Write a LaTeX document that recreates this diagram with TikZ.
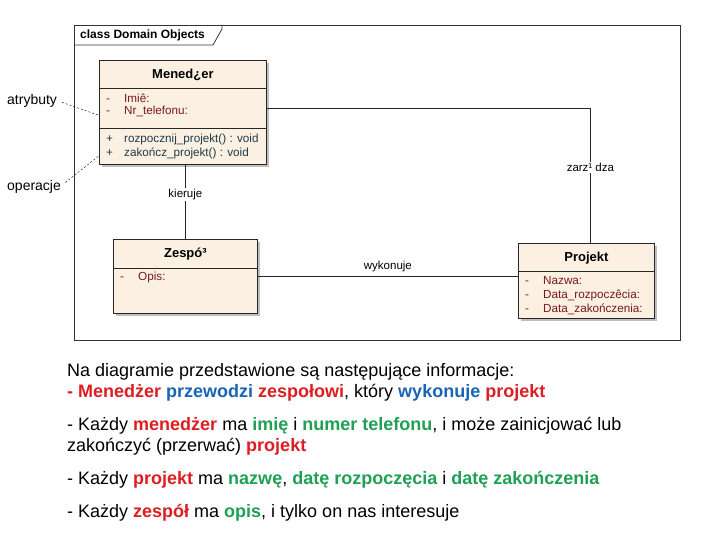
\documentclass[tikz,border=0pt]{standalone}
\usepackage{fontspec}
\setmainfont{Liberation Sans}
\usetikzlibrary{shadows}
\definecolor{umlfill}{RGB}{251,240,225}
\definecolor{attrcol}{RGB}{120,25,30}
\definecolor{opcol}{RGB}{30,60,75}
\definecolor{hlred}{RGB}{220,30,35}
\definecolor{hlblue}{RGB}{25,100,180}
\definecolor{hlgreen}{RGB}{30,160,85}
\newcommand{\rd}[1]{\textcolor{hlred}{\textbf{#1}}}
\newcommand{\bl}[1]{\textcolor{hlblue}{\textbf{#1}}}
\newcommand{\gr}[1]{\textcolor{hlgreen}{\textbf{#1}}}
\newcommand{\umlrow}[2]{\makebox[18pt][l]{#1}#2}
\begin{document}
\begin{tikzpicture}[x=1pt,y=-1pt,every node/.style={font=\fontsize{11.7}{13}\selectfont,inner sep=1pt},
  umlbox/.style={draw=black!85,line width=0.8pt,fill=umlfill,anchor=north west,inner sep=0pt,
    drop shadow={shadow xshift=3pt,shadow yshift=-3pt,fill=black!25,opacity=1}},
  umlhead/.style={font=\fontsize{13}{15}\selectfont\bfseries},
  attr/.style={anchor=west,text=attrcol}, oper/.style={anchor=west,text=opcol},
  assoc/.style={draw=black!85,line width=0.8pt},
  linklabel/.style={fill=white,inner sep=1.5pt,font=\fontsize{11.5}{13}\selectfont},
  note/.style={anchor=west,font=\fontsize{14}{16}\selectfont},
  desc/.style={anchor=base west,font=\fontsize{18}{21}\selectfont}]
\useasboundingbox (0,0) rectangle (720,540);
% frame
\draw[black!80,line width=0.8pt] (74,25) rectangle (680,340);
\draw[black!80,line width=0.8pt] (74,45) -- (213,45) -- (222,29) -- (222,25);
\node[anchor=west,font=\fontsize{12}{14}\selectfont\bfseries] (frametitle) at (79,35) {class Domain Objects};
% classes
\node[umlbox,minimum width=167pt,minimum height=104pt] (man) at (99,60) {};
\node[umlbox,minimum width=144pt,minimum height=74pt] (zes) at (113,239) {};
\node[umlbox,minimum width=136pt,minimum height=75pt] (proj) at (518,243) {};
\draw[black!85,line width=0.8pt] ([yshift=-28pt]man.north west) -- ([yshift=-28pt]man.north east);
\draw[black!85,line width=0.8pt] ([yshift=-68pt]man.north west) -- ([yshift=-68pt]man.north east);
\draw[black!85,line width=0.8pt] ([yshift=-29pt]zes.north west) -- ([yshift=-29pt]zes.north east);
\draw[black!85,line width=0.8pt] ([yshift=-28pt]proj.north west) -- ([yshift=-28pt]proj.north east);
\node[umlhead] (manhead) at ([yshift=-14.5pt]man.north) {Mened¿er};
\node[umlhead] (zeshead) at ([yshift=-15pt]zes.north) {Zespó³};
\node[umlhead] (projhead) at ([yshift=-15pt]proj.north) {Projekt};
\node[attr] (mimie) at (105,98) {\umlrow{-}{Imiê:}};
\node[attr] (mtel) at (105,111) {\umlrow{-}{Nr\_telefonu:}};
\node[oper] (mstart) at (105,139) {\umlrow{+}{rozpocznij\_projekt() : void}};
\node[oper] (mstop) at (105,153) {\umlrow{+}{zakończ\_projekt() : void}};
\node[attr] (zopis) at (119,277) {\umlrow{-}{Opis:}};
\node[attr] (pnazwa) at (524,281) {\umlrow{-}{Nazwa:}};
\node[attr] (pstart) at (524,295) {\umlrow{-}{Data\_rozpoczêcia:}};
\node[attr] (pstop) at (524,309) {\umlrow{-}{Data\_zakończenia:}};
% associations
\draw[assoc] ([yshift=4pt]man.east) -| node[linklabel,pos=0.72] (zarz) {zarz¹ dza} ([xshift=4pt]proj.north);
\draw[assoc] (zes.north |- man.south) -- node[linklabel,pos=0.4] (kier) {kieruje} (zes.north);
\draw[assoc] (zes.east) -- node[above=3pt,font=\fontsize{11.5}{13}\selectfont] (wyk) {wykonuje} (zes.east -| proj.west);
% annotations
\node[note] (atr) at (6,101) {atrybuty};
\node[note] (ope) at (6,187) {operacje};
\draw[black,dash pattern=on 2pt off 2pt,shorten <=4pt] (atr.east) -- ([yshift=-3pt]man.west);
\draw[black,dash pattern=on 2pt off 2pt,shorten <=4pt] ([yshift=2pt]ope.east) -- ([yshift=9pt]man.south west);
% description
\node[desc] (line1) at (66,376) {Na diagramie przedstawione są następujące informacje:};
\node[desc] (line2) at (66,397) {\rd{- Menedżer} \bl{przewodzi} \rd{zespołowi}, który \bl{wykonuje} \rd{projekt}};
\node[desc] (line3) at (66,430) {- Każdy \rd{menedżer} ma \gr{imię} i \gr{numer telefonu}, i może zainicjować lub};
\node[desc] (line4) at (66,451) {zakończyć (przerwać) \rd{projekt}};
\node[desc] (line5) at (66,484) {- Każdy \rd{projekt} ma \gr{nazwę}, \gr{datę rozpoczęcia} i \gr{datę zakończenia}};
\node[desc] (line6) at (66,517) {- Każdy \rd{zespół} ma \gr{opis}, i tylko on nas interesuje};
\end{tikzpicture}
\end{document}
